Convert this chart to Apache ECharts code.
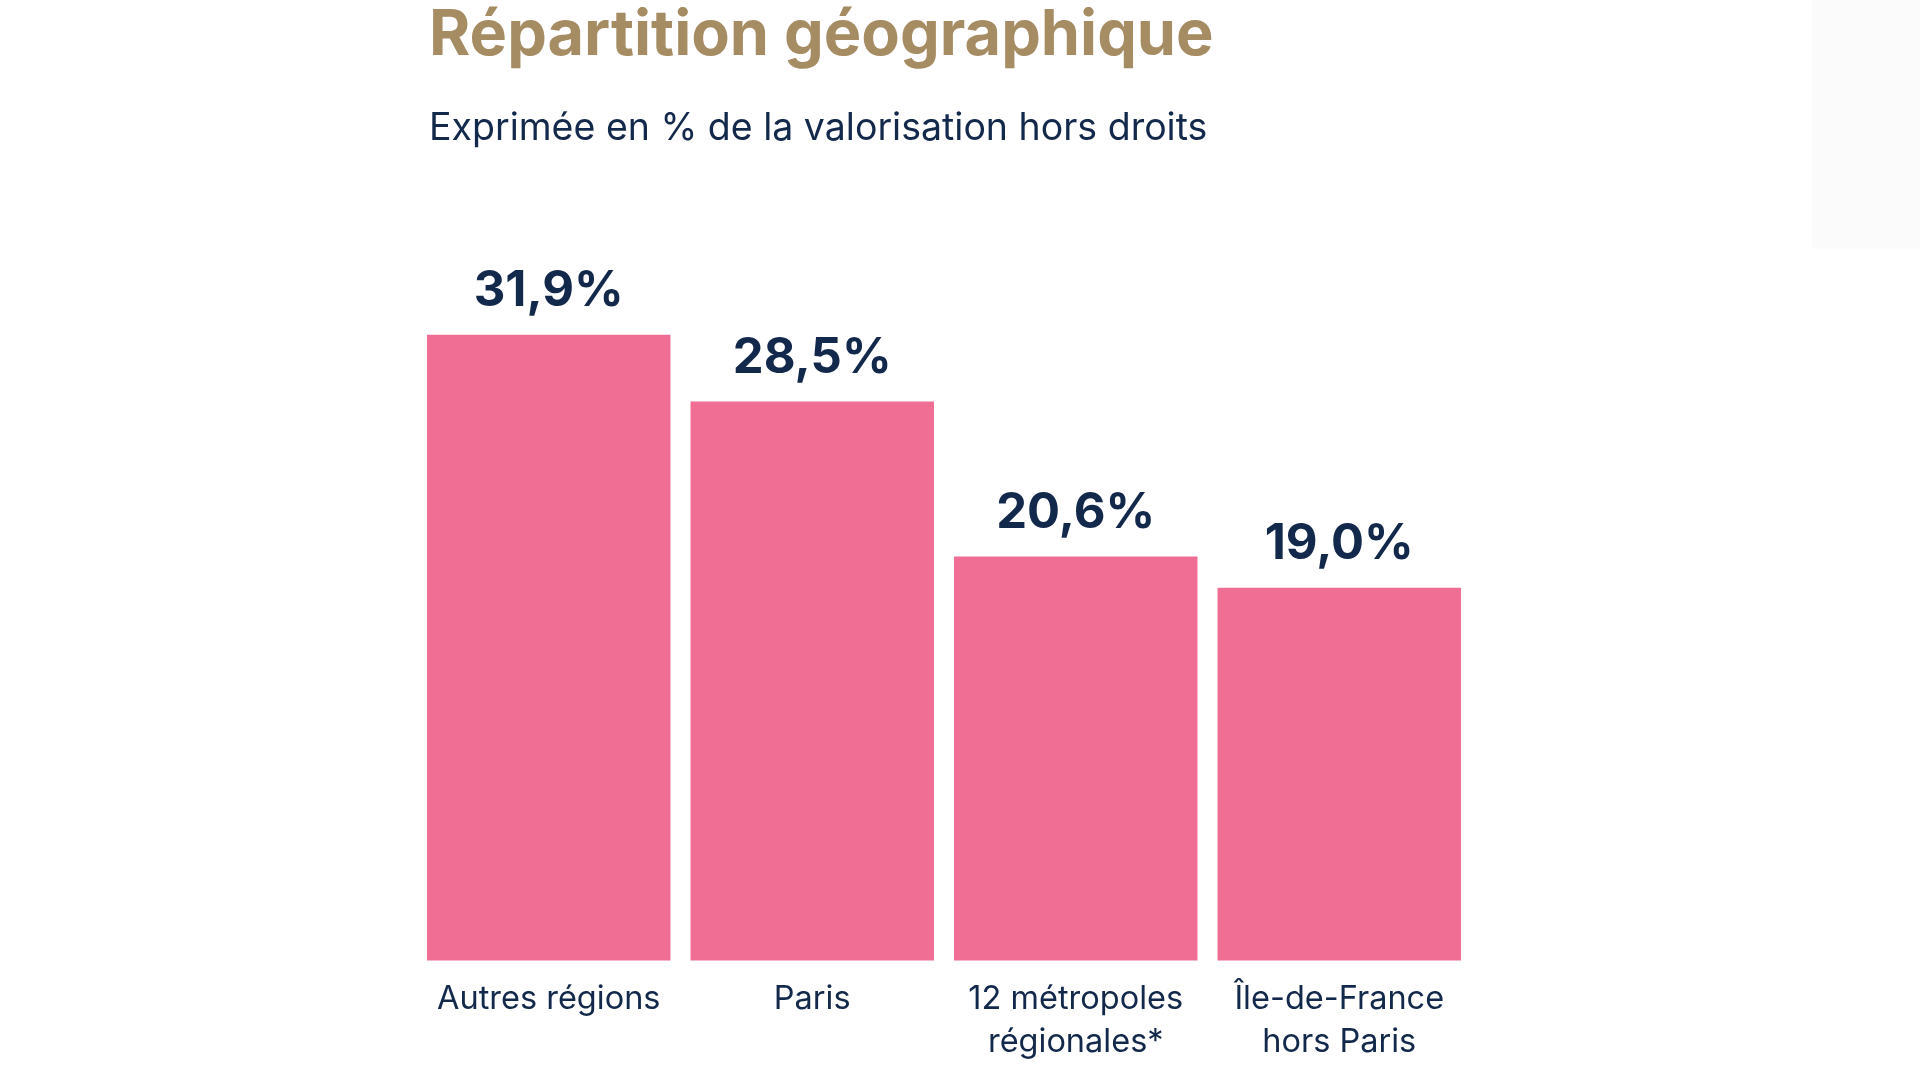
<!DOCTYPE html>
<html>
<head>
<meta charset="utf-8">
<script src="https://cdn.jsdelivr.net/npm/echarts@6/dist/echarts.min.js"></script>
<style>
html,body{margin:0;padding:0;background:#ffffff;}
#chart{width:1920px;height:1080px;}
</style>
</head>
<body>
<div id="chart"></div>
<script>
const titleText = 'Répartition géographique';
const subtitleText = 'Exprimée en % de la valorisation hors droits';
const categories = ['Autres régions', 'Paris', '12 métropoles\nrégionales*', 'Île-de-France\nhors Paris'];
const values = [31.9, 28.5, 20.6, 19.0];

const navy = '#13294b';
const chart = echarts.init(document.getElementById('chart'));
chart.setOption({
  backgroundColor: '#ffffff',
  animation: false,
  graphic: [{
    type: 'rect', right: 0, top: 0, shape: {width: 108, height: 249},
    style: {fill: '#fbfbfb'}, silent: true
  }],
  title: {
    text: titleText,
    subtext: subtitleText,
    left: 424,
    top: 0,
    itemGap: 42,
    textStyle: {fontFamily: 'Inter', fontWeight: 'bold', fontSize: 63, color: '#a68c63'},
    subtextStyle: {fontFamily: 'Inter', fontWeight: 'normal', fontSize: 37.5, color: navy}
  },
  grid: {left: 417, right: 449, top: 176, bottom: 119.5},
  xAxis: {
    type: 'category',
    data: categories,
    axisLine: {show: false},
    axisTick: {show: false},
    axisLabel: {
      interval: 0, margin: 17, fontFamily: 'Inter', fontSize: 32.5, lineHeight: 43, color: navy
    }
  },
  yAxis: {type: 'value', min: 0, max: 40, show: false, splitLine: {show: false}},
  series: [{
    type: 'bar',
    data: values,
    barCategoryGap: '7.6%',
    itemStyle: {color: '#f06e94'},
    label: {
      show: true,
      position: 'top',
      distance: 19,
      fontFamily: 'Inter',
      fontWeight: 'bold',
      fontSize: 49,
      color: navy,
      formatter: p => p.value.toFixed(1).replace('.', ',') + '%'
    }
  }]
});
</script>
</body>
</html>
